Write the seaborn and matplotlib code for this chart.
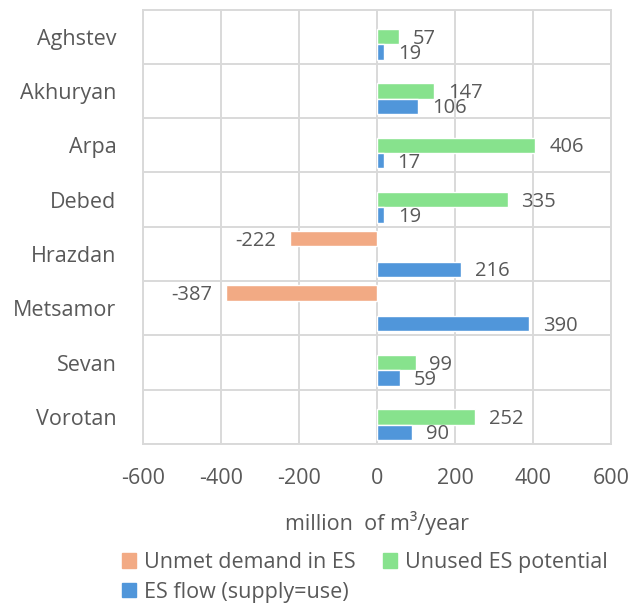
import pandas as pd
import numpy as np
import matplotlib
matplotlib.use("Agg")
import matplotlib.pyplot as plt
import seaborn as sns
from matplotlib.patches import Patch

# data
basins = ["Aghstev", "Akhuryan", "Arpa", "Debed", "Hrazdan", "Metsamor", "Sevan", "Vorotan"]
unmet_demand = [np.nan, np.nan, np.nan, np.nan, -222, -387, np.nan, np.nan]
unused_potential = [57, 147, 406, 335, np.nan, np.nan, 99, 252]
es_flow = [19, 106, 17, 19, 216, 390, 59, 90]

series_names = ["Unmet demand in ES", "Unused ES potential", "ES flow (supply=use)"]
colors = ["#F2AA84", "#87E28D", "#5096DA"]

# long form table, gaps dropped so no empty bar gets a label
df = pd.DataFrame({
    "basin": basins * 3,
    "series": np.repeat(series_names, len(basins)),
    "value": unmet_demand + unused_potential + es_flow,
}).dropna()

sns.set_theme(style="white")
plt.rcParams["font.family"] = ["Open Sans", "DejaVu Sans"]
plt.rcParams["axes.unicode_minus"] = False
text_col = "#595959"
grid_col = "#D9D9D9"
fs = 15.5

fig = plt.figure(figsize=(6.39, 6.09), dpi=100)
ax = fig.add_axes([143 / 639, 1 - 444 / 609, 468 / 639, 434.5 / 609])

sns.barplot(data=df, x="value", y="basin", hue="series", order=basins,
            hue_order=series_names, palette=colors, orient="h", width=0.85,
            errorbar=None, legend=False, ax=ax, saturation=1)

for cont in ax.containers:
    labels = ax.bar_label(cont, fmt="%.0f", padding=10, fontsize=14.5, color=text_col)
    for t in labels:
        # excel puts the labels a touch below the bar centre
        t.xyann = (t.xyann[0], -1.5)

ax.set_xlim(-600, 600)
ax.set_xticks(range(-600, 601, 200))
ax.set_ylim(len(basins) - 0.5, -0.5)
ax.set_yticks(np.arange(len(basins)) + 0.5, minor=True)
ax.grid(axis="x", color=grid_col, linewidth=1.4)
ax.grid(axis="y", which="minor", color=grid_col, linewidth=1.4)
ax.set_axisbelow(True)
for s in ax.spines.values():
    s.set_color(grid_col)
    s.set_linewidth(1.4)

ax.tick_params(axis="x", length=0, pad=17, labelsize=fs, colors=text_col)
ax.tick_params(axis="y", which="both", length=0, pad=19, labelsize=fs, colors=text_col)
ax.set_ylabel("")
ax.set_xlabel("million  of m³/year", fontsize=fs, color=text_col, labelpad=16)

handles = [Patch(color=c) for c in colors]
# column-major order so that the first row holds the two upper entries
order = [0, 2, 1]
fig.legend([handles[i] for i in order], [series_names[i] for i in order],
           ncol=2, loc="upper left", bbox_to_anchor=(122 / 639, 1 - 552 / 609),
           frameon=False, fontsize=fs, labelcolor=text_col,
           handlelength=0.65, handleheight=0.65, handletextpad=0.35,
           columnspacing=1.3, labelspacing=0.4, borderpad=0, borderaxespad=0)

fig.savefig("out.png", dpi=100)
